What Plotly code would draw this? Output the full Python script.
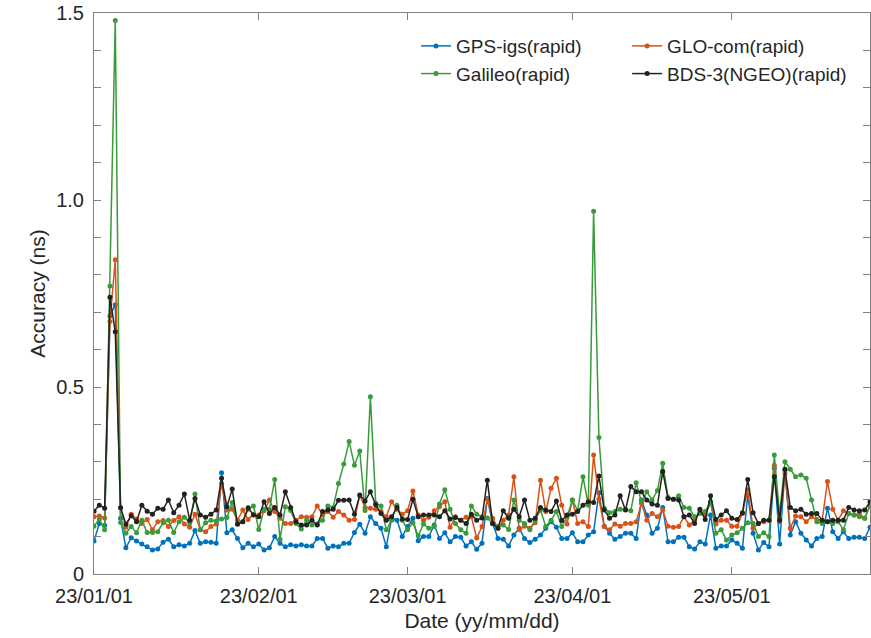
import plotly.graph_objects as go
import pandas as pd

dates = pd.date_range("2023-01-01", "2023-05-27", freq="D")

gps = [0.088,0.135,0.130,0.69,0.72,0.149,0.070,0.097,0.088,0.080,
       0.073,0.064,0.067,0.085,0.093,0.073,0.078,0.075,0.082,0.116,
       0.082,0.086,0.085,0.082,0.271,0.110,0.118,0.095,0.070,0.082,
       0.073,0.080,0.064,0.070,0.100,0.082,0.073,0.078,0.075,0.078,
       0.075,0.075,0.095,0.095,0.069,0.075,0.073,0.082,0.082,0.111,
       0.133,0.109,0.153,0.135,0.122,0.073,0.149,0.144,0.100,0.127,
       0.149,0.089,0.100,0.100,0.131,0.095,0.110,0.086,0.100,0.098,
       0.075,0.086,0.066,0.082,0.202,0.135,0.095,0.093,0.075,0.104,
       0.122,0.095,0.084,0.093,0.104,0.122,0.140,0.125,0.095,0.095,
       0.110,0.086,0.086,0.104,0.113,0.217,0.128,0.109,0.093,0.100,
       0.109,0.109,0.095,0.198,0.158,0.109,0.122,0.178,0.086,0.086,
       0.098,0.098,0.073,0.067,0.086,0.080,0.158,0.069,0.075,0.075,
       0.091,0.082,0.069,0.211,0.109,0.064,0.084,0.073,0.283,0.080,
       0.278,0.104,0.140,0.109,0.091,0.075,0.095,0.100,0.176,0.113,
       0.095,0.113,0.095,0.098,0.098,0.095,0.125]

glo = [0.153,0.155,0.150,0.675,0.84,0.177,0.125,0.160,0.147,0.135,
       0.146,0.118,0.140,0.143,0.127,0.143,0.153,0.134,0.125,0.160,
       0.118,0.113,0.127,0.134,0.242,0.171,0.173,0.144,0.171,0.146,
       0.160,0.158,0.169,0.198,0.167,0.149,0.135,0.135,0.144,0.153,
       0.152,0.153,0.182,0.158,0.167,0.152,0.167,0.158,0.144,0.146,
       0.210,0.178,0.176,0.173,0.167,0.153,0.193,0.173,0.160,0.169,
       0.222,0.158,0.144,0.152,0.169,0.180,0.193,0.125,0.153,0.144,
       0.152,0.153,0.096,0.127,0.200,0.149,0.122,0.144,0.158,0.260,
       0.118,0.128,0.122,0.137,0.251,0.167,0.229,0.256,0.184,0.134,
       0.198,0.135,0.140,0.127,0.318,0.200,0.127,0.118,0.134,0.128,
       0.135,0.135,0.140,0.189,0.144,0.162,0.153,0.171,0.128,0.125,
       0.127,0.153,0.131,0.144,0.171,0.158,0.191,0.134,0.144,0.144,
       0.128,0.128,0.162,0.225,0.122,0.135,0.140,0.144,0.291,0.140,
       0.269,0.122,0.155,0.153,0.140,0.153,0.146,0.144,0.247,0.173,
       0.144,0.169,0.162,0.158,0.162,0.149,0.182]

gal = [0.128,0.147,0.118,0.77,1.48,0.138,0.109,0.127,0.110,0.144,
       0.111,0.111,0.113,0.137,0.144,0.111,0.140,0.152,0.137,0.214,
       0.118,0.137,0.144,0.142,0.147,0.151,0.191,0.135,0.140,0.173,
       0.182,0.119,0.173,0.173,0.253,0.093,0.180,0.170,0.135,0.120,
       0.144,0.131,0.134,0.144,0.182,0.178,0.242,0.294,0.354,0.291,
       0.329,0.170,0.474,0.189,0.182,0.118,0.144,0.184,0.144,0.118,
       0.137,0.102,0.134,0.122,0.127,0.187,0.225,0.173,0.135,0.118,
       0.109,0.182,0.160,0.153,0.150,0.135,0.127,0.131,0.119,0.198,
       0.144,0.135,0.118,0.144,0.171,0.127,0.144,0.167,0.127,0.153,
       0.198,0.169,0.260,0.184,0.970,0.365,0.176,0.164,0.167,0.173,
       0.173,0.169,0.244,0.193,0.220,0.198,0.223,0.296,0.205,0.200,
       0.209,0.178,0.176,0.153,0.162,0.167,0.193,0.109,0.118,0.091,
       0.104,0.110,0.122,0.137,0.135,0.100,0.110,0.100,0.318,0.158,
       0.300,0.280,0.260,0.265,0.256,0.198,0.140,0.135,0.140,0.135,
       0.140,0.118,0.162,0.158,0.153,0.149,0.184]

bds = [0.168,0.184,0.176,0.74,0.648,0.177,0.133,0.156,0.140,0.184,
       0.168,0.160,0.176,0.173,0.198,0.164,0.184,0.214,0.144,0.202,
       0.158,0.152,0.160,0.171,0.256,0.180,0.227,0.133,0.140,0.177,
       0.158,0.153,0.193,0.162,0.178,0.158,0.220,0.178,0.140,0.131,
       0.131,0.144,0.131,0.167,0.171,0.173,0.197,0.197,0.198,0.160,
       0.211,0.195,0.220,0.185,0.162,0.144,0.153,0.178,0.147,0.146,
       0.200,0.153,0.158,0.158,0.158,0.153,0.169,0.147,0.151,0.144,
       0.135,0.160,0.144,0.150,0.251,0.135,0.122,0.169,0.149,0.173,
       0.153,0.198,0.144,0.149,0.178,0.171,0.167,0.195,0.143,0.158,
       0.160,0.167,0.184,0.193,0.191,0.262,0.171,0.149,0.158,0.209,
       0.171,0.234,0.220,0.220,0.198,0.187,0.184,0.274,0.202,0.200,
       0.198,0.153,0.158,0.135,0.173,0.146,0.209,0.146,0.158,0.169,
       0.149,0.146,0.164,0.253,0.164,0.135,0.144,0.144,0.260,0.144,
       0.280,0.178,0.169,0.173,0.160,0.162,0.162,0.144,0.140,0.144,
       0.144,0.144,0.178,0.171,0.169,0.171,0.193]

series_names = ["GPS-igs(rapid)", "GLO-com(rapid)", "Galileo(rapid)", "BDS-3(NGEO)(rapid)"]
series_vals = [gps, glo, gal, bds]
colors = ["#0072BD", "#D95319", "#3A9B3A", "#222222"]
legend_ids = ["legend", "legend2", "legend", "legend2"]

x_tickvals = ["2023-01-01", "2023-02-01", "2023-03-01", "2023-04-01", "2023-05-01"]
x_ticktext = ["23/01/01", "23/02/01", "23/03/01", "23/04/01", "23/05/01"]
y_tickvals = [0, 0.5, 1.0, 1.5]
y_ticktext = ["0", "0.5", "1.0", "1.5"]
y_minor = [0.1, 0.2, 0.3, 0.4, 0.6, 0.7, 0.8, 0.9, 1.1, 1.2, 1.3, 1.4]

fig = go.Figure()
for name, vals, c, lg in zip(series_names, series_vals, colors, legend_ids):
    fig.add_trace(go.Scatter(
        x=dates, y=vals, name=name, mode="lines+markers",
        line=dict(color=c, width=1.5),
        marker=dict(color=c, size=5),
        legend=lg,
    ))

font_family = "Liberation Sans, Arial, sans-serif"
axis_color = "#808080"
text_color = "#262626"

legend_common = dict(
    orientation="v", xanchor="left", yanchor="top",
    font=dict(size=19, color=text_color),
    bgcolor="rgba(0,0,0,0)", borderwidth=0,
)

fig.update_layout(
    width=871, height=638,
    margin=dict(l=94, r=1, t=13, b=64),
    paper_bgcolor="white", plot_bgcolor="white",
    font=dict(family=font_family, size=20, color=text_color),
    showlegend=True,
    legend=dict(x=0.415, y=0.975, **legend_common),
    legend2=dict(x=0.687, y=0.975, **legend_common),
)

fig.update_xaxes(
    range=["2023-01-01", "2023-05-27"],
    tickvals=x_tickvals, ticktext=x_ticktext,
    ticks="inside", ticklen=7, tickcolor=axis_color, tickwidth=1,
    showline=True, linecolor=axis_color, linewidth=1, mirror="ticks",
    showgrid=False, zeroline=False, automargin=False,
    ticklabelstandoff=4, ticklabeloverflow="allow",
    tickfont=dict(size=20, color=text_color),
    title=dict(text="Date (yy/mm/dd)", font=dict(size=21, color=text_color), standoff=7),
)
fig.update_yaxes(
    range=[0, 1.5],
    tickvals=y_tickvals, ticktext=y_ticktext,
    ticks="inside", ticklen=7, tickcolor=axis_color, tickwidth=1,
    minor=dict(tickvals=y_minor, ticks="inside", ticklen=7, tickcolor=axis_color),
    showline=True, linecolor=axis_color, linewidth=1, mirror="ticks",
    showgrid=False, zeroline=False, automargin=False,
    ticklabelstandoff=5, ticklabeloverflow="allow",
    tickfont=dict(size=20, color=text_color),
    title=dict(text="Accuracy (ns)", font=dict(size=21, color=text_color), standoff=4),
)

# remove the browser's default 8px page margin so the figure fills the window
fig.write_html("out.html", config={"displayModeBar": False},
               post_script="document.body.style.margin='0';")
